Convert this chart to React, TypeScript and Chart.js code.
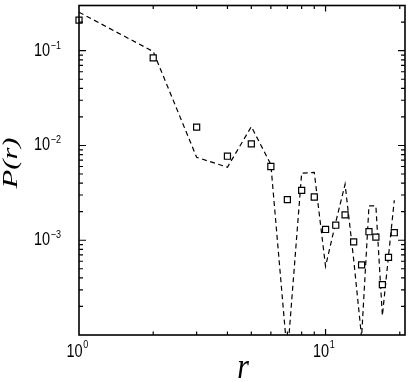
import React, { useEffect, useRef } from "react";
import { Chart, registerables } from "chart.js";

Chart.register(...registerables);

// distance r
const rValues = [1, 2, 3, 4, 5, 6, 7, 8, 9, 10, 11, 12, 13, 14, 15, 16, 17, 18, 19];
// measured P(r) (squares)
const pMeasured = [
  0.21, 0.084, 0.0156, 0.0077, 0.0104, 0.006, 0.00268, 0.00336, 0.00286, 0.0013,
  0.00144, 0.00185, 0.00096, 0.00055, 0.00123, 0.00108, 0.00034, 0.00066, 0.0012,
];
// model P(r) (dashed line)
const pModel = [
  0.255, 0.098, 0.0075, 0.0059, 0.0158, 0.0063, 0.00006, 0.0051, 0.0052, 0.00053,
  0.00155, 0.0039, 0.00063, 0.000095, 0.0023, 0.0023, 0.00016, 0.00068, 0.00264,
];
// axis ranges and tick decades
const xMin = 1;
const xMax = 21;
const yMin = 1e-4;
const yMax = 0.3;
const xDecades = [0, 1];
const yDecades = [-1, -2, -3];

function drawScaled(
  ctx: CanvasRenderingContext2D,
  text: string,
  x: number,
  y: number,
  font: string,
  align: CanvasTextAlign,
  sy: number
) {
  ctx.save();
  ctx.font = font;
  ctx.textAlign = align;
  ctx.textBaseline = "alphabetic";
  ctx.translate(x, y);
  ctx.scale(1, sy);
  ctx.fillText(text, 0, 0);
  ctx.restore();
}

const framePlugin = {
  id: "frame",
  afterDraw(chart: any) {
    const { ctx, chartArea } = chart;
    const { left, right, top, bottom } = chartArea;
    const xs = chart.scales.x;
    const ys = chart.scales.y;
    ctx.save();
    ctx.strokeStyle = "#000";
    ctx.fillStyle = "#000";
    ctx.lineWidth = 1.6;
    ctx.strokeRect(left, top, right - left, bottom - top);

    ctx.lineWidth = 1.2;
    // x ticks
    for (let d = 0; d <= 1; d++) {
      for (let k = 1; k <= 9; k++) {
        const v = k * Math.pow(10, d);
        if (v <= xMin || v >= xMax) continue;
        const px = xs.getPixelForValue(v);
        const len = k === 1 ? 6 : 3.5;
        ctx.beginPath();
        ctx.moveTo(px, bottom);
        ctx.lineTo(px, bottom - len);
        ctx.moveTo(px, top);
        ctx.lineTo(px, top + len);
        ctx.stroke();
      }
    }
    // y ticks
    for (let d = -4; d <= -1; d++) {
      for (let k = 1; k <= 9; k++) {
        const v = k * Math.pow(10, d);
        if (v <= yMin * 1.0001 || v >= yMax * 0.9999) continue;
        const py = ys.getPixelForValue(v);
        const len = k === 1 ? 7 : 4;
        ctx.beginPath();
        ctx.moveTo(left, py);
        ctx.lineTo(left + len, py);
        ctx.moveTo(right, py);
        ctx.lineTo(right - len, py);
        ctx.stroke();
      }
    }

    const numFont = "14.5px 'Liberation Sans', Arial, sans-serif";
    const expFont = "9px 'Liberation Sans', Arial, sans-serif";
    // y tick labels
    for (const d of yDecades) {
      const py = ys.getPixelForValue(Math.pow(10, d));
      drawScaled(ctx, "10", 34, py + 5, numFont, "left", 1.25);
      ctx.font = numFont;
      const w = ctx.measureText("10").width;
      drawScaled(ctx, "\u2212" + String(-d), 34 + w + 0.5, py - 2, expFont, "left", 1.2);
    }
    // x tick labels
    for (const d of xDecades) {
      const px = xs.getPixelForValue(Math.pow(10, d));
      drawScaled(ctx, "10", px - 12.5, 357, numFont, "left", 1.25);
      ctx.font = numFont;
      const w = ctx.measureText("10").width;
      drawScaled(ctx, String(d), px - 12.5 + w + 0.5, 348, expFont, "left", 1.2);
    }

    // x title
    drawScaled(ctx, "r", 243, 378, "italic 30px 'Liberation Serif', 'Times New Roman', serif", "center", 1.2);

    // y title (rotated)
    ctx.save();
    ctx.font = "italic 21px 'Liberation Serif', 'Times New Roman', serif";
    const tw = ctx.measureText("P(r)").width;
    ctx.translate(17, 163);
    ctx.rotate(-Math.PI / 2);
    ctx.scale(51 / tw, 1);
    ctx.textAlign = "center";
    ctx.textBaseline = "alphabetic";
    ctx.fillText("P(r)", 0, 0);
    ctx.restore();

    ctx.restore();
  },
};

export default function App() {
  const ref = useRef<HTMLCanvasElement>(null);
  useEffect(() => {
    if (!ref.current) return;
    const chart = new Chart(ref.current, {
      type: "line",
      data: {
        datasets: [
          {
            label: "measured",
            data: rValues.map((r, i) => ({ x: r, y: pMeasured[i] })),
            showLine: false,
            pointStyle: "rect",
            pointRadius: 4.3,
            pointBackgroundColor: "#fff",
            pointBorderColor: "#000",
            pointBorderWidth: 1.2,
            order: 0,
            clip: false,
          } as any,
          {
            label: "model",
            data: rValues.map((r, i) => ({ x: r, y: pModel[i] })),
            borderColor: "#000",
            borderWidth: 1.2,
            borderDash: [5, 3.5],
            pointRadius: 0,
            fill: false,
            tension: 0,
            order: 1,
          } as any,
        ],
      },
      options: {
        responsive: false,
        animation: false,
        devicePixelRatio: 1,
        layout: { padding: { top: 5, right: 14, left: 0, bottom: 0 } },
        plugins: { legend: { display: false }, tooltip: { enabled: false } },
        scales: {
          x: {
            type: "logarithmic",
            min: xMin,
            max: xMax,
            ticks: { display: false },
            grid: { display: false },
            border: { display: false },
            afterFit: (s: any) => {
              s.height = 47;
            },
          },
          y: {
            type: "logarithmic",
            min: yMin,
            max: yMax,
            ticks: { display: false },
            grid: { display: false },
            border: { display: false },
            afterFit: (s: any) => {
              s.width = 79;
            },
          },
        },
      } as any,
      plugins: [framePlugin],
    });
    return () => chart.destroy();
  }, []);
  return (
    <div style={{ position: "fixed", left: 0, top: 0, width: 419, height: 382, background: "#fff" }}>
      <canvas ref={ref} width={419} height={382} style={{ display: "block" }} />
    </div>
  );
}
